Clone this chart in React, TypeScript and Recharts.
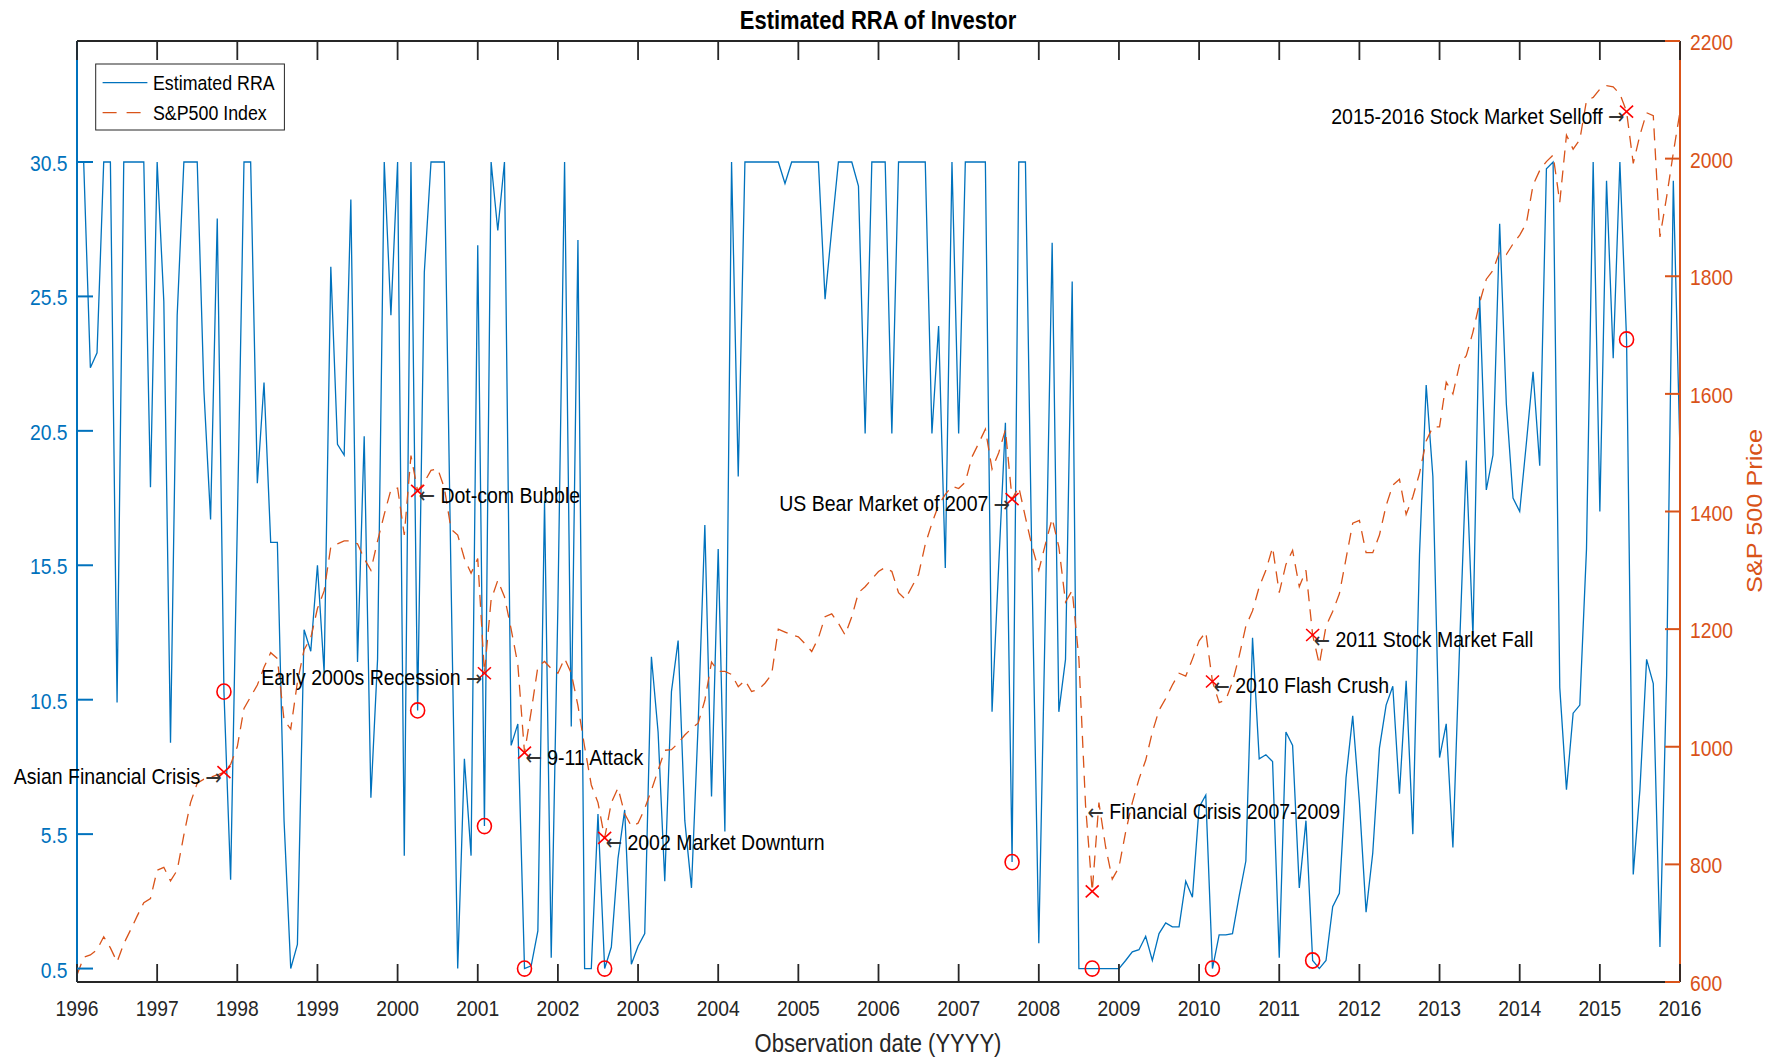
import React from 'react';
import { ComposedChart, Line, Scatter, XAxis, YAxis } from 'recharts';

const FONT = '"Liberation Sans", Arial, Helvetica, sans-serif';
const ARROW_FONT = '"DejaVu Sans", sans-serif';
const STRETCH = 1.15;
const BLUE = '#0072BD';
const ORANGE = '#D95319';
const RED = '#FF0000';
const DARK = '#262626';

const yearTicks = [
  1996, 1997, 1998, 1999, 2000, 2001, 2002, 2003, 2004, 2005, 2006,
  2007, 2008, 2009, 2010, 2011, 2012, 2013, 2014, 2015, 2016,
];
const rraTicks = [0.5, 5.5, 10.5, 15.5, 20.5, 25.5, 30.5];
const priceTicks = [600, 800, 1000, 1200, 1400, 1600, 1800, 2000, 2200];

// monthly estimated RRA, Jan 1996 .. Jan 2016
const rra = [
  30.5, 30.5, 22.85, 23.4, 30.5, 30.5, 10.4, 30.5, 30.5, 30.5, 30.5, 18.4,
  30.5, 25.3, 8.9, 24.8, 30.5, 30.5, 30.5, 22, 17.2, 28.4, 10.8, 3.8,
  17, 30.5, 30.5, 18.55, 22.3, 16.35, 16.35, 6, 0.5, 1.4, 13.1, 12.3,
  15.5, 11.5, 26.6, 20.0, 19.6, 29.1, 11.9, 20.3, 6.85, 12, 30.5, 24.8,
  30.5, 4.7, 30.5, 10.1, 26.4, 30.5, 30.5, 30.5, 15, 0.5, 8.3, 4.7,
  27.4, 5.8, 30.5, 27.95, 30.5, 8.8, 9.6, 0.5, 0.6, 1.9, 17.9, 0.9,
  14, 30.5, 9.5, 27.6, 0.5, 0.5, 6.25, 0.5, 1.3, 4.6, 6.4, 0.66,
  1.33, 1.8, 12.1, 9.3, 3.75, 10.8, 12.7, 6.0, 3.5, 9.6, 17.0, 6.9,
  16.1, 5.6, 30.5, 18.8, 30.5, 30.5, 30.5, 30.5, 30.5, 30.5, 29.7, 30.5,
  30.5, 30.5, 30.5, 30.5, 25.4, 28, 30.5, 30.5, 30.5, 29.6, 20.4, 30.5,
  30.5, 30.5, 20.4, 30.5, 30.5, 30.5, 30.5, 30.5, 20.4, 24.4, 15.4, 30.5,
  20.4, 30.5, 30.5, 30.5, 30.5, 10.05, 15.5, 20.8, 4.46, 30.5, 30.5, 15,
  1.44, 14, 27.5, 10.05, 12.0, 26.05, 0.5, 0.5, 0.5, 0.5, 0.5, 0.5,
  0.5, 0.8, 1.12, 1.2, 1.7, 0.8, 1.8, 2.2, 2.05, 2.05, 3.75, 3.15,
  6.5, 6.95, 0.5, 1.75, 1.75, 1.8, 3.2, 4.5, 12.8, 8.3, 8.45, 8.2,
  0.9, 9.3, 8.8, 3.5, 6.0, 0.8, 0.5, 0.8, 2.8, 3.3, 7.6, 9.9,
  6.7, 2.6, 4.8, 8.7, 10.3, 11.0, 7.0, 11.2, 5.5, 15.9, 22.2, 18.8,
  8.35, 9.6, 5.0, 12.5, 19.4, 12.85, 25.5, 18.3, 19.6, 28.2, 21.5, 18.0,
  17.5, 20.05, 22.7, 19.2, 30.25, 30.5, 10.95, 7.15, 10.0, 10.3, 16.1, 30.5,
  17.5, 29.8, 23.2, 30.5, 23.9, 4.0, 7.15, 12.0, 11.1, 1.3, 11.4, 29.8,
  19.7,
];

// monthly S&P 500 index, Jan 1996 .. Jan 2016
const sp500 = [
  612, 642, 646, 655, 677, 658, 634, 665, 688, 712, 735, 742,
  790, 795, 772, 790, 850, 905, 938, 945, 948, 952, 957, 970,
  1000, 1065, 1085, 1105, 1135, 1160, 1150, 1045, 1030, 1110, 1165, 1185,
  1235, 1265, 1340, 1345, 1350, 1350, 1345, 1320, 1300, 1350, 1395, 1437,
  1440, 1360, 1495, 1435, 1450, 1470, 1473, 1440, 1370, 1360, 1320, 1295,
  1320, 1125, 1250, 1283, 1255, 1200, 1140, 990, 1060, 1136, 1145, 1133,
  1125, 1150, 1125, 1070, 1000, 935, 905, 845, 905, 930, 886, 865,
  870, 895, 926, 960, 994, 995, 1006, 1020, 1031, 1040, 1079, 1144,
  1128, 1128, 1123, 1102, 1113, 1094, 1097, 1108, 1123, 1200, 1195, 1190,
  1187, 1175, 1162, 1185, 1221, 1226, 1210, 1190, 1221, 1262, 1272, 1285,
  1298, 1305, 1298, 1262, 1251, 1272, 1293, 1344, 1380, 1411, 1429, 1443,
  1439, 1450, 1493, 1516, 1540, 1472, 1500, 1539, 1421, 1442, 1390, 1340,
  1300, 1345, 1388, 1340, 1246, 1266, 1150, 900, 754, 905, 830, 775,
  795, 855, 905, 945, 977, 1025, 1062, 1082, 1105, 1125, 1120, 1149,
  1180, 1195, 1111, 1075, 1080, 1110, 1154, 1205, 1231, 1272, 1300, 1339,
  1262, 1310, 1334, 1272, 1300, 1190, 1140, 1205, 1230, 1260, 1320, 1380,
  1385, 1330, 1330, 1360, 1410, 1445, 1455, 1395, 1425, 1465, 1520, 1544,
  1544, 1620, 1600, 1650, 1665, 1705, 1755, 1795, 1810, 1842, 1837, 1855,
  1870, 1890, 1955, 1980, 1995, 2006, 1926, 2040, 2016, 2032, 2099, 2104,
  2118, 2124, 2122, 2110, 2080, 1992, 2040, 2078, 2073, 1867, 1935, 2010,
  2080,
];

// crisis events: month index into the series above
const eventIndex = [22, 51, 61, 67, 79, 140, 152, 170, 185, 232];
const eventLabels = [
  'Asian Financial Crisis',
  'Dot-com Bubble',
  'Early 2000s Recession',
  '9-11 Attack',
  '2002 Market Downturn',
  'US Bear Market of 2007',
  'Financial Crisis 2007-2009',
  '2010 Flash Crush',
  '2011 Stock Market Fall',
  '2015-2016 Stock Market Selloff',
];
// where each label's arrow points (year, S&P value)
const labelTime = [1997.833, 2000.25, 2001.083, 2001.583, 2002.583, 2007.667, 2008.595, 2010.167, 2011.417, 2015.333];
const labelPrice = [957, 1435, 1125, 990, 845, 1421, 897, 1111, 1190, 2080];
const labelSide = ['left', 'right', 'left', 'right', 'right', 'left', 'right', 'right', 'right', 'left'];

const data = rra.map((v, i) => ({ t: 1996 + i / 12, rra: v, sp: sp500[i] }));
const events = eventIndex.map((k) => ({ t: 1996 + k / 12, rra: rra[k], sp: sp500[k] }));
const labels = eventLabels.map((text, i) => ({ t: labelTime[i], sp: labelPrice[i], text, side: labelSide[i] }));

function SText({ x, y, anchor = 'start', size, fill = '#000', weight = 400, rotate = 0, children }: any) {
  const tf = rotate
    ? `translate(${x} ${y}) rotate(${rotate}) scale(${STRETCH} 1)`
    : `translate(${x} ${y}) scale(1 ${STRETCH})`;
  return (
    <text
      transform={tf}
      x={0}
      y={0}
      textAnchor={anchor}
      dominantBaseline="central"
      fontFamily={FONT}
      fontSize={size}
      fontWeight={weight}
      fill={fill}
    >
      {children}
    </text>
  );
}

const LeftTick = ({ x, y, payload }: any) => (
  <g>
    <line x1={x} x2={x + 16} y1={y} y2={y} stroke={BLUE} strokeWidth={2} />
    <SText x={x - 9.5} y={y + 1} anchor="end" size={19.3} fill={BLUE}>{String(payload.value)}</SText>
  </g>
);

const RightTick = ({ x, y, payload }: any) => (
  <g>
    <line x1={x} x2={x - 15} y1={y} y2={y} stroke={ORANGE} strokeWidth={2} />
    <SText x={x + 10} y={y + 1} anchor="start" size={19.3} fill={ORANGE}>{String(payload.value)}</SText>
  </g>
);

const BottomTick = ({ x, y, payload }: any) => (
  <g>
    <line x1={x} x2={x} y1={y} y2={y - 18} stroke={DARK} strokeWidth={1.8} />
    <SText x={x} y={y + 26} anchor="middle" size={19.3} fill={DARK}>{String(payload.value)}</SText>
  </g>
);

const TopTick = ({ x, y }: any) => (
  <line x1={x} x2={x} y1={y} y2={y + 19} stroke={DARK} strokeWidth={1.8} />
);

const CrossMark = ({ cx, cy }: any) => (
  <g stroke={RED} strokeWidth={1.6}>
    <line x1={cx - 6.5} y1={cy - 6} x2={cx + 6.5} y2={cy + 6} />
    <line x1={cx - 6.5} y1={cy + 6} x2={cx + 6.5} y2={cy - 6} />
  </g>
);

const RingMark = ({ cx, cy }: any) => (
  <ellipse cx={cx} cy={cy} rx={7} ry={7.6} fill="none" stroke={RED} strokeWidth={1.6} />
);

const EventLabel = ({ cx, cy, payload }: any) =>
  payload.side === 'left' ? (
    <SText x={cx - 2} y={cy + 4} anchor="end" size={19.5}>
      {`${payload.text} `}
      <tspan fontFamily={ARROW_FONT} fill="#333">{'\u2192'}</tspan>
    </SText>
  ) : (
    <SText x={cx + 1} y={cy + 4} anchor="start" size={19.5}>
      <tspan fontFamily={ARROW_FONT} fill="#333">{'\u2190'}</tspan>
      {` ${payload.text}`}
    </SText>
  );

export default function App() {
  return (
    <div style={{ position: 'absolute', left: 0, top: 0, width: 1785, height: 1059, background: '#fff' }}>
      <ComposedChart width={1785} height={1059} data={data} margin={{ top: 0, right: 0, bottom: 0, left: 0 }}>
        <XAxis
          type="number"
          dataKey="t"
          domain={[1996, 2016]}
          ticks={yearTicks}
          interval={0}
          height={77}
          tickSize={0}
          tickMargin={0}
          tickLine={false}
          tick={<BottomTick />}
          axisLine={{ stroke: DARK, strokeWidth: 2 }}
        />
        <XAxis
          xAxisId="top"
          orientation="top"
          type="number"
          dataKey="t"
          domain={[1996, 2016]}
          ticks={yearTicks}
          interval={0}
          height={41}
          tickSize={0}
          tickMargin={0}
          tickLine={false}
          tick={<TopTick />}
          axisLine={{ stroke: DARK, strokeWidth: 2 }}
        />
        <YAxis
          yAxisId="left"
          type="number"
          domain={[0, 35]}
          ticks={rraTicks}
          interval={0}
          width={77}
          tickSize={0}
          tickMargin={0}
          tickLine={false}
          tick={<LeftTick />}
          axisLine={{ stroke: BLUE, strokeWidth: 2 }}
        />
        <YAxis
          yAxisId="right"
          orientation="right"
          type="number"
          domain={[600, 2200]}
          ticks={priceTicks}
          interval={0}
          width={105}
          tickSize={0}
          tickMargin={0}
          tickLine={false}
          tick={<RightTick />}
          axisLine={{ stroke: ORANGE, strokeWidth: 2 }}
        />
        <Line
          yAxisId="left"
          type="linear"
          dataKey="rra"
          stroke={BLUE}
          strokeWidth={1.3}
          dot={false}
          activeDot={false}
          isAnimationActive={false}
        />
        <Line
          yAxisId="right"
          type="linear"
          dataKey="sp"
          stroke={ORANGE}
          strokeWidth={1.3}
          strokeDasharray="12 8"
          dot={false}
          activeDot={false}
          isAnimationActive={false}
        />
        <Scatter yAxisId="left" data={events} dataKey="rra" shape={(p: any) => <RingMark {...p} />} isAnimationActive={false} />
        <Scatter yAxisId="right" data={events} dataKey="sp" shape={(p: any) => <CrossMark {...p} />} isAnimationActive={false} />
        <Scatter yAxisId="right" data={labels} dataKey="sp" shape={(p: any) => <EventLabel {...p} />} isAnimationActive={false} />
      </ComposedChart>

      <svg width={1785} height={1059} style={{ position: 'absolute', left: 0, top: 0, pointerEvents: 'none' }}>
        <SText x={878} y={20} anchor="middle" size={22} weight={700} fill="#000">Estimated RRA of Investor</SText>
        <SText x={878} y={1043} anchor="middle" size={22} fill={DARK}>Observation date (YYYY)</SText>
        <SText x={1755} y={511} anchor="middle" size={22} fill={ORANGE} rotate={-90}>S&amp;P 500 Price</SText>

        <rect x={95.7} y={64} width={188.7} height={66} fill="#fff" stroke={DARK} strokeWidth={1} />
        <line x1={102.6} x2={147.4} y1={82.7} y2={82.7} stroke={BLUE} strokeWidth={1.3} />
        <line x1={102.6} x2={147.4} y1={112.7} y2={112.7} stroke={ORANGE} strokeWidth={1.3} strokeDasharray="14 10" />
        <SText x={153} y={83} size={17.8}>Estimated RRA</SText>
        <SText x={153} y={113} size={17.8}>S&amp;P500 Index</SText>
      </svg>
    </div>
  );
}
